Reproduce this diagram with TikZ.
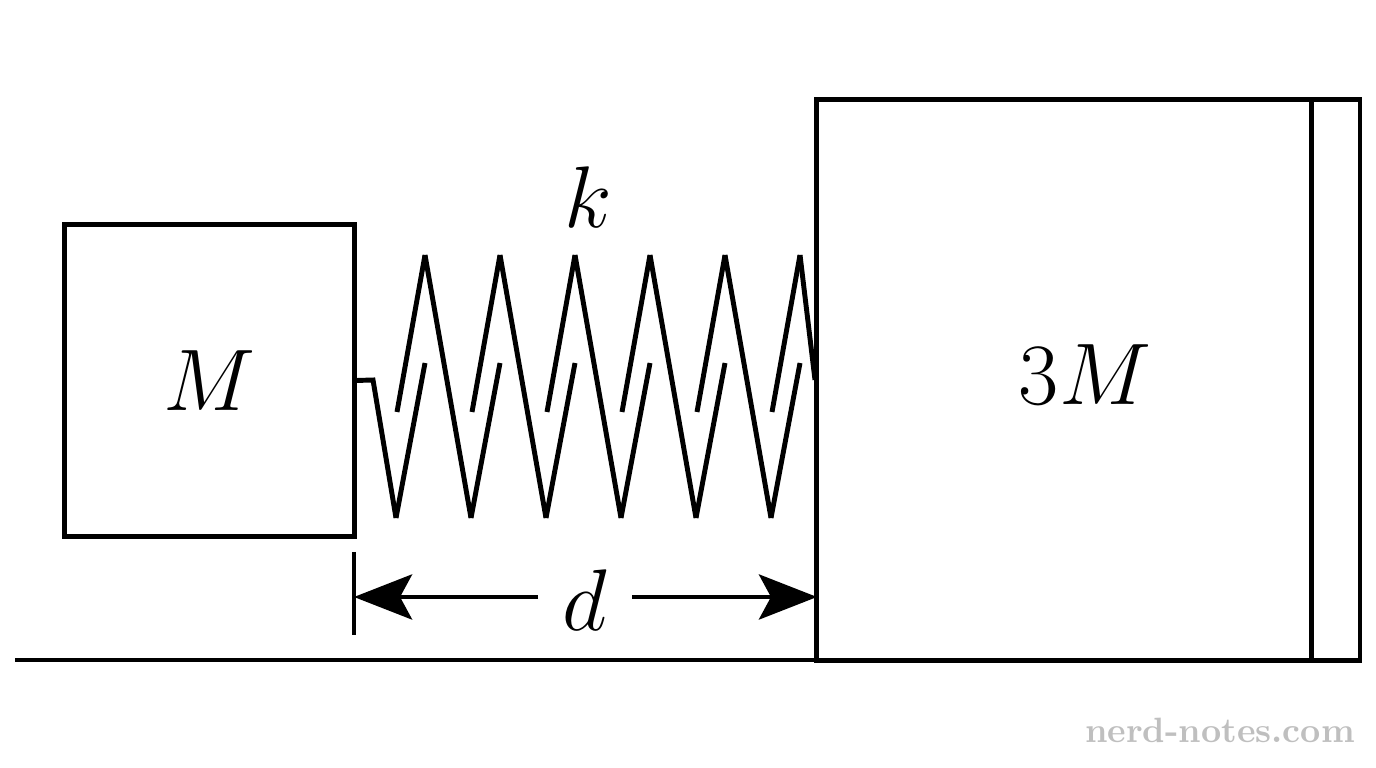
\documentclass[tikz,border=0pt]{standalone}
\usetikzlibrary{arrows.meta}
\tikzset{
    body/.style={draw, line width=1.4pt, inner sep=0pt},
    coil/.style={line width=1.4pt, line join=miter},
    dim/.style={line width=1.4pt, -{Stealth[length=0.58cm,width=0.45cm,inset=0.12cm]}},
    lbl/.style={font=\fontsize{27}{30}\selectfont}
}
\begin{document}
\begin{tikzpicture}[x=0.01cm,y=-0.01cm]
                \useasboundingbox (0,0) rectangle (1376,768);
                % blocks and wall
                \node[body, minimum width=2.89cm, minimum height=3.11cm] (m) at (209.5,380.5) {};
                \node[body, minimum width=4.94cm, minimum height=5.60cm] (bigm) at (1064,380) {};
                \node[body, minimum width=0.49cm, minimum height=5.60cm] (wall) at (1335.5,380) {};
                \node[lbl] at (m) {$M$};
                \node[lbl, font=\fontsize{32}{35}\selectfont] at (1085,375) {$3M$};
                % floor
                \coordinate (fl) at (15,660);
                \coordinate (fr) at (1360,660);
                \draw[line width=1.4pt] (fl) -- (fr);
                % spring
                \coordinate (s0) at (m.east);
                \draw[coil] (s0) -- (373,380) -- (396,518);
                \foreach \i in {0,...,5}{
                    \draw[coil] (396+75*\i,518) -- (425+75*\i,363);
                    \draw[coil] (397+75*\i,412) -- (425+75*\i,255);
                }
                \foreach \i in {0,...,4}{
                    \draw[coil] (425+75*\i,255) -- (471+75*\i,518);
                }
                \draw[coil] (800,255) -- (815,380);
                \node[lbl] at (588,197) {$k$};
                % distance d
                \coordinate (tt) at (354,552);
                \coordinate (tb) at (354,635);
                \draw[line width=1.4pt] (tt) -- (tb);
                \coordinate (al) at (354,597);
                \coordinate (ar) at (817,597);
                \node[lbl, font=\fontsize{30}{33}\selectfont] (d) at (585,600) {$d$};
                \draw[dim] (538,597) -- (al);
                \draw[dim] (632,597) -- (ar);
                % watermark
                \node[text=black!25, font=\fontsize{10}{12}\selectfont\bfseries] at (1220,730) {nerd-notes.com};
\end{tikzpicture}
\end{document}
